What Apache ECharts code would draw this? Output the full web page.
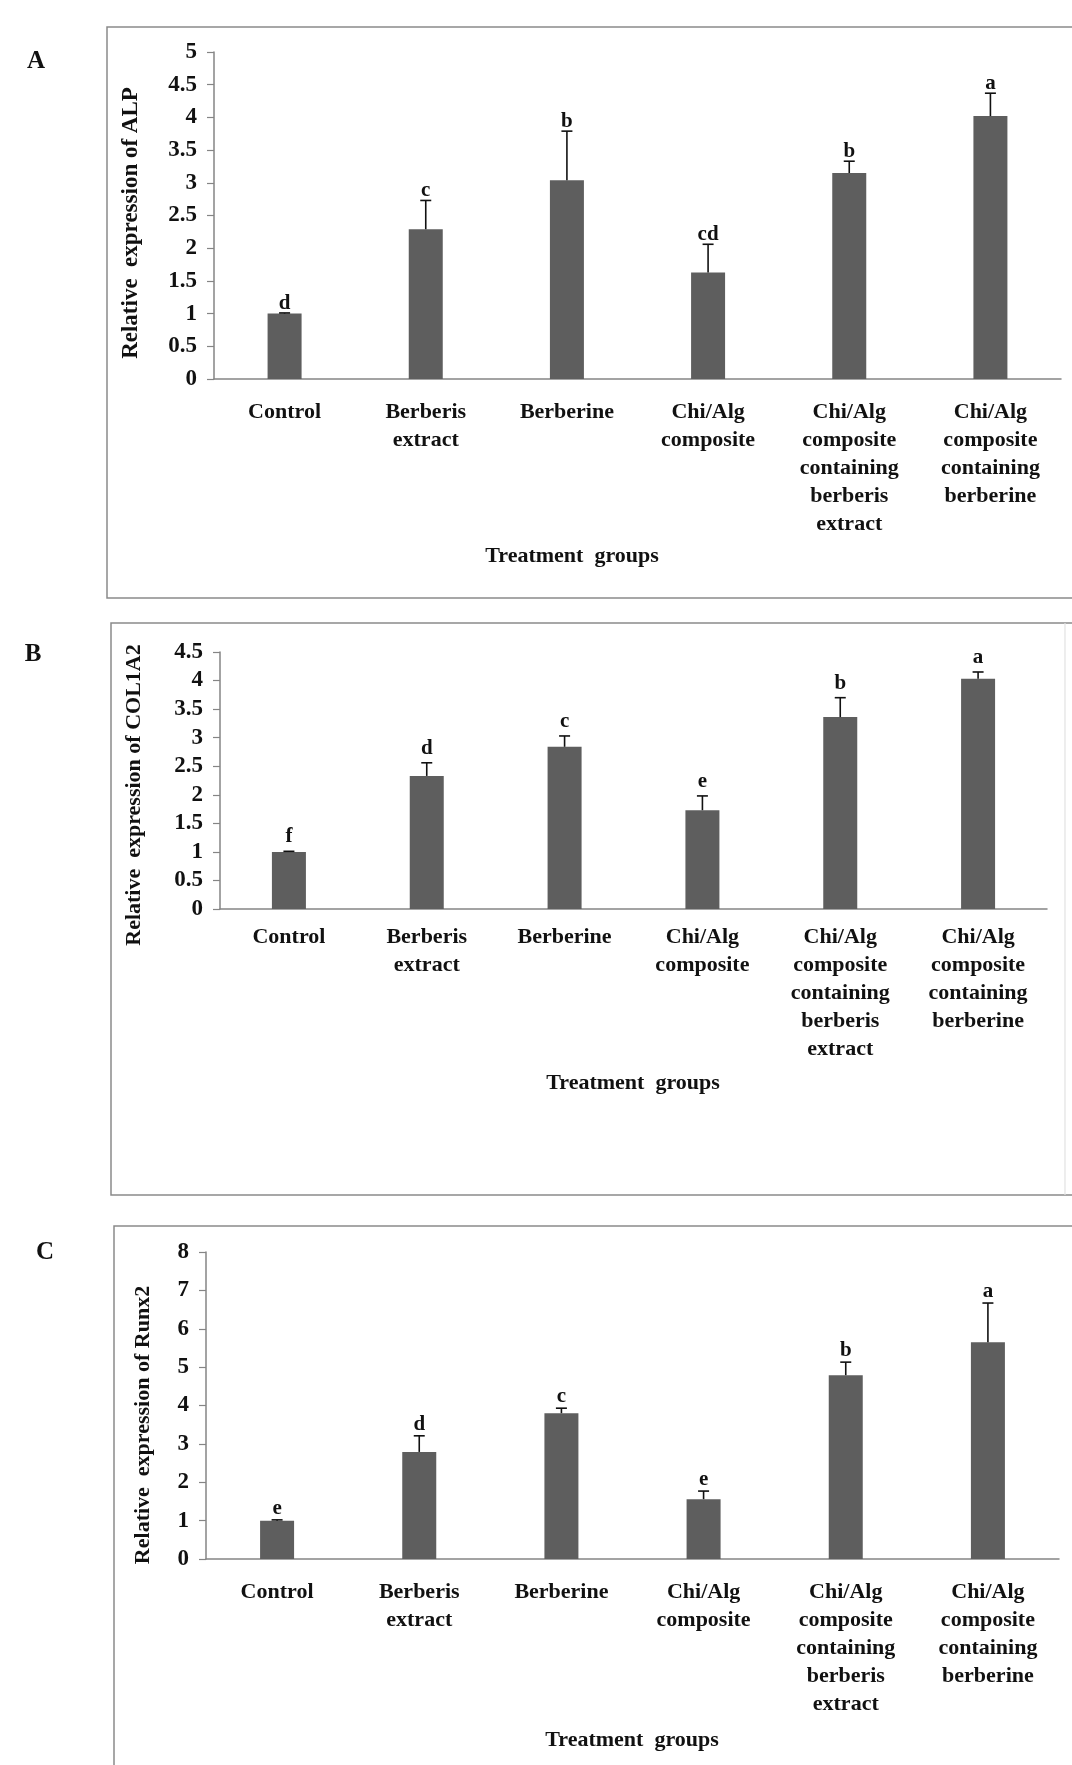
<!DOCTYPE html>
<html>
<head>
<meta charset="utf-8">
<script src="https://cdn.jsdelivr.net/npm/echarts@6/dist/echarts.min.js"></script>
<style>html,body{margin:0;padding:0;background:#fff}#c{width:1072px;height:1765px}</style>
</head>
<body>
<div id="c"></div>
<script>
const categories = ['Control','Berberis\nextract','Berberine','Chi/Alg\ncomposite','Chi/Alg\ncomposite\ncontaining\nberberis\nextract','Chi/Alg\ncomposite\ncontaining\nberberine'];

const alpMeans = [1.0, 2.29, 3.04, 1.63, 3.15, 4.02];
const alpErrors = [0.01, 0.44, 0.75, 0.43, 0.18, 0.35];
const alpLetters = ['d','c','b','cd','b','a'];

const colMeans = [1.0, 2.33, 2.84, 1.73, 3.36, 4.03];
const colErrors = [0.01, 0.23, 0.19, 0.25, 0.34, 0.12];
const colLetters = ['f','d','c','e','b','a'];

const runxMeans = [1.0, 2.79, 3.80, 1.56, 4.79, 5.65];
const runxErrors = [0.02, 0.42, 0.13, 0.21, 0.34, 1.02];
const runxLetters = ['e','d','c','e','b','a'];

const yTitles = ['Relative  expression of ALP','Relative  expression of COL1A2','Relative  expression of Runx2'];
const xTitle = 'Treatment  groups';
const panelLetters = ['A','B','C'];

const FONT = '"Liberation Serif","Times New Roman",serif';
const AXIS_GRAY = '#858585';

const panels = [
  {means: alpMeans, errs: alpErrors, letters: alpLetters, grid:{left:214, right:11, top:52, height:327}, max:5, interval:0.5, labelMargin:19, letterGap:-1},
  {means: colMeans, errs: colErrors, letters: colLetters, grid:{left:220, right:25, top:652, height:257}, max:4.5, interval:0.5, labelMargin:14, letterGap:4},
  {means: runxMeans, errs: runxErrors, letters: runxLetters, grid:{left:206, right:13, top:1252, height:307}, max:8, interval:1, labelMargin:19, letterGap:1}
];

const grids = [], xAxes = [], yAxes = [], series = [];
panels.forEach((p, i) => {
  grids.push(Object.assign({containLabel:false}, p.grid));
  xAxes.push({
    type:'category', gridIndex:i, data:categories,
    axisLine:{lineStyle:{color:AXIS_GRAY, width:1.5}},
    axisTick:{show:false},
    axisLabel:{interval:0, margin:p.labelMargin, color:'#111', fontFamily:FONT, fontWeight:'bold', fontSize:22, lineHeight:28, align:'center'}
  });
  yAxes.push({
    type:'value', gridIndex:i, min:0, max:p.max, interval:p.interval,
    axisLine:{show:true, lineStyle:{color:AXIS_GRAY, width:1.5}},
    axisTick:{show:true, length:7, lineStyle:{color:AXIS_GRAY, width:1.2}},
    splitLine:{show:false},
    axisLabel:{margin:17, color:'#111', fontFamily:FONT, fontWeight:'bold', fontSize:23}
  });
  series.push({
    type:'bar', xAxisIndex:i, yAxisIndex:i, data:p.means, barWidth:34,
    itemStyle:{color:'#5e5e5e'}, silent:true
  });
  const errData = p.means.map((m, k) => [k, m, p.errs[k]]);
  series.push({
    type:'custom', xAxisIndex:i, yAxisIndex:i, data:errData, silent:true, z:5,
    encode:{x:0, y:1},
    renderItem:(params, api) => {
      const k = api.value(0), m = api.value(1), e = api.value(2);
      const p0 = api.coord([k, m]);
      const p1 = api.coord([k, m + e]);
      return {type:'group', children:[
        {type:'line', shape:{x1:p0[0], y1:p0[1], x2:p1[0], y2:p1[1]}, style:{stroke:'#111', lineWidth:1.6}},
        {type:'line', shape:{x1:p1[0]-5.5, y1:p1[1], x2:p1[0]+5.5, y2:p1[1]}, style:{stroke:'#111', lineWidth:1.6}},
        {type:'text', x:p1[0], y:p1[1]-p.letterGap, style:{text:p.letters[params.dataIndex], align:'center', verticalAlign:'bottom', font:'bold 21px ' + FONT, fill:'#111'}}
      ]};
    }
  });
});

const frameStyle = {stroke:'#8a8a8a', lineWidth:1.5, fill:null};
const graphic = [
  {type:'rect', shape:{x:107, y:27, width:1000, height:571}, style:frameStyle, silent:true},
  {type:'polyline', shape:{points:[[1090,623],[111,623],[111,1195],[1090,1195]]}, style:frameStyle, silent:true},
  {type:'line', shape:{x1:1065, y1:623, x2:1065, y2:1195}, style:{stroke:'#e2e2e2', lineWidth:1.2}, silent:true},
  {type:'rect', shape:{x:114, y:1226, width:1000, height:620}, style:frameStyle, silent:true},
  {type:'text', x:36, y:62, style:{text:panelLetters[0], align:'center', verticalAlign:'middle', font:'bold 25px ' + FONT, fill:'#111'}},
  {type:'text', x:33, y:655, style:{text:panelLetters[1], align:'center', verticalAlign:'middle', font:'bold 25px ' + FONT, fill:'#111'}},
  {type:'text', x:45, y:1253, style:{text:panelLetters[2], align:'center', verticalAlign:'middle', font:'bold 25px ' + FONT, fill:'#111'}},
  {type:'text', x:131, y:223, rotation:Math.PI/2, style:{text:yTitles[0], align:'center', verticalAlign:'middle', font:'bold 23px ' + FONT, fill:'#111'}},
  {type:'text', x:134, y:795, rotation:Math.PI/2, style:{text:yTitles[1], align:'center', verticalAlign:'middle', font:'bold 22px ' + FONT, fill:'#111'}},
  {type:'text', x:143, y:1425, rotation:Math.PI/2, style:{text:yTitles[2], align:'center', verticalAlign:'middle', font:'bold 22px ' + FONT, fill:'#111'}},
  {type:'text', x:572, y:556, style:{text:xTitle, align:'center', verticalAlign:'middle', font:'bold 22px ' + FONT, fill:'#111'}},
  {type:'text', x:633, y:1083, style:{text:xTitle, align:'center', verticalAlign:'middle', font:'bold 22px ' + FONT, fill:'#111'}},
  {type:'text', x:632, y:1740, style:{text:xTitle, align:'center', verticalAlign:'middle', font:'bold 22px ' + FONT, fill:'#111'}}
];

const chart = echarts.init(document.getElementById('c'), null, {renderer:'canvas'});
chart.setOption({
  backgroundColor:'#fff',
  animation:false,
  grid:grids, xAxis:xAxes, yAxis:yAxes, series:series, graphic:graphic
});
</script>
</body>
</html>
